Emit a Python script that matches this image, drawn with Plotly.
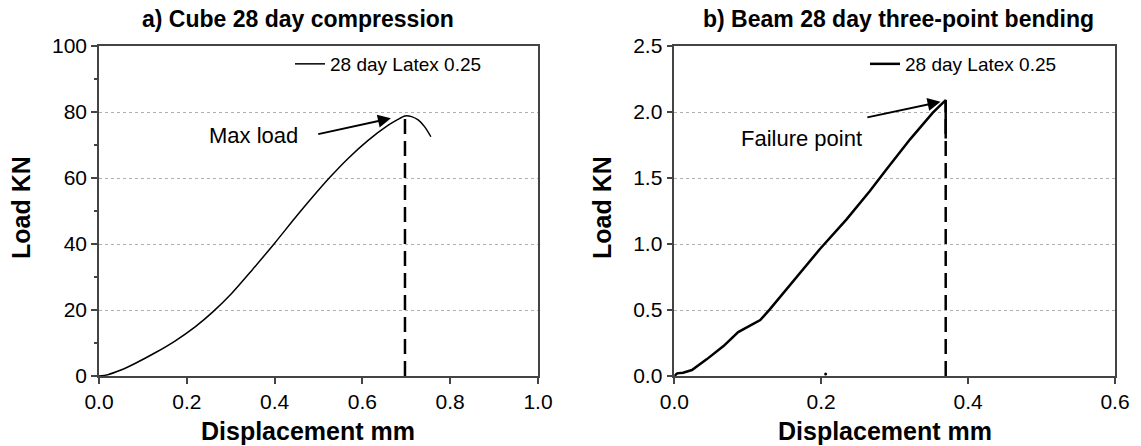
import plotly.graph_objects as go

# Cube, 28 day compression test
cube_disp = [0.0, 0.02, 0.05, 0.082, 0.13, 0.173, 0.219, 0.26, 0.302, 0.348, 0.401,
             0.446, 0.485, 0.526, 0.568, 0.613, 0.659, 0.68, 0.697, 0.712, 0.727,
             0.742, 0.756]
cube_load = [0.0, 0.4, 1.8, 3.8, 7.2, 10.6, 14.9, 19.5, 25.0, 32.0, 40.4,
             47.8, 54.0, 60.2, 66.0, 71.4, 76.0, 77.7, 78.8, 78.6, 77.6,
             75.5, 72.5]

# Beam, 28 day three-point bending test
beam_disp = [0.0, 0.004, 0.012, 0.024, 0.044, 0.067, 0.087, 0.103, 0.117, 0.130,
             0.162, 0.198, 0.2345, 0.266, 0.289, 0.321, 0.352, 0.3695, 0.3695]
beam_load = [0.0, 0.02, 0.025, 0.045, 0.126, 0.227, 0.333, 0.384, 0.424, 0.505,
             0.72, 0.96, 1.187, 1.40, 1.566, 1.793, 1.995, 2.09, 1.80]
beam_stray_disp = [0.206]
beam_stray_load = [0.015]

series_name = "28 day Latex 0.25"
titles = ["a) Cube 28 day compression", "b) Beam 28 day three-point bending"]
x_title = "Displacement mm"
y_title = "Load KN"

W, H = 1141, 446
FONT = "Liberation Sans, Arial, sans-serif"


def px(x):
    return x / W


def py(y):
    return 1 - y / H


i_max = cube_load.index(max(cube_load))
max_disp, max_load = cube_disp[i_max], cube_load[i_max]
i_fail = beam_load.index(max(beam_load))
fail_disp, fail_load = beam_disp[i_fail], beam_load[i_fail]

fig = go.Figure()

fig.add_trace(go.Scatter(x=cube_disp, y=cube_load, mode="lines", name=series_name,
                         line=dict(color="black", width=1.5, shape="spline", smoothing=0.8),
                         xaxis="x", yaxis="y", legend="legend"))
fig.add_trace(go.Scatter(x=[max_disp, max_disp], y=[0, max_load], mode="lines",
                         line=dict(color="black", width=2.5, dash="15px,7px"),
                         showlegend=False, xaxis="x", yaxis="y"))

fig.add_trace(go.Scatter(x=beam_disp, y=beam_load, mode="lines", name=series_name,
                         line=dict(color="black", width=2.5),
                         xaxis="x2", yaxis="y2", legend="legend2"))
fig.add_trace(go.Scatter(x=beam_stray_disp, y=beam_stray_load, mode="markers",
                         marker=dict(color="black", size=3),
                         showlegend=False, xaxis="x2", yaxis="y2"))
fig.add_trace(go.Scatter(x=[fail_disp, fail_disp], y=[0, fail_load], mode="lines",
                         line=dict(color="black", width=2.5, dash="15px,7px"),
                         showlegend=False, xaxis="x2", yaxis="y2"))

axis_common = dict(
    showline=True, linecolor="#444", linewidth=1.5, mirror=True,
    ticks="outside", ticklen=6, tickcolor="#444", tickwidth=1.5,
    tickfont=dict(family=FONT, size=21, color="black"),
    zeroline=False, automargin=False,
)

fig.update_layout(
    width=W, height=H,
    margin=dict(l=0, r=0, t=0, b=0),
    paper_bgcolor="white", plot_bgcolor="white",
    font=dict(family=FONT, color="black"),
    xaxis=dict(domain=[px(99), px(538)], range=[0, 1.0], dtick=0.2, tickformat=".1f",
               anchor="y", showgrid=False, **axis_common),
    yaxis=dict(domain=[py(376), py(46)], range=[0, 100], dtick=20, anchor="x",
               showgrid=True, gridcolor="#b0b0b0", gridwidth=1, griddash="dot",
               minor=dict(dtick=10, ticks="outside", ticklen=3, tickcolor="#444",
                          showgrid=False),
               **axis_common),
    xaxis2=dict(domain=[px(674.3), px(1115)], range=[0, 0.6], dtick=0.2, tickformat=".1f",
                anchor="y2", showgrid=False, **axis_common),
    yaxis2=dict(domain=[py(376), py(46)], range=[0, 2.5], dtick=0.5, tickformat=".1f",
                anchor="x2", showgrid=True, gridcolor="#b0b0b0", gridwidth=1,
                griddash="dot", **axis_common),
    legend=dict(x=px(290), y=py(64), xanchor="left", yanchor="middle",
                bgcolor="rgba(0,0,0,0)", font=dict(family=FONT, size=19),
                itemwidth=30),
    legend2=dict(x=px(865), y=py(64), xanchor="left", yanchor="middle",
                 bgcolor="rgba(0,0,0,0)", font=dict(family=FONT, size=19),
                 itemwidth=30),
)

ann = []
# panel titles
for t, cx in zip(titles, [298, 898]):
    ann.append(dict(text=f"<b>{t}</b>", x=px(cx), y=py(19), xref="paper", yref="paper",
                    xanchor="center", yanchor="middle", showarrow=False,
                    font=dict(size=23, family=FONT)))
# axis titles
for cx in [308, 885]:
    ann.append(dict(text=f"<b>{x_title}</b>", x=px(cx), y=py(431), xref="paper",
                    yref="paper", xanchor="center", yanchor="middle", showarrow=False,
                    font=dict(size=25, family=FONT)))
for cx in [21, 602]:
    ann.append(dict(text=f"<b>{y_title}</b>", x=px(cx), y=py(208), xref="paper",
                    yref="paper", xanchor="center", yanchor="middle", showarrow=False,
                    textangle=-90, font=dict(size=25, family=FONT)))
# callouts
ann.append(dict(text="Max load", x=0.351, y=72.9, xref="x", yref="y", showarrow=False,
                xanchor="center", yanchor="middle", font=dict(size=22, family=FONT)))
ann.append(dict(text="", x=0.665, y=78.1, ax=0.496, ay=73.2, xref="x", yref="y",
                axref="x", ayref="y", showarrow=True, arrowhead=2, arrowsize=1.3,
                arrowwidth=2, arrowcolor="black"))
ann.append(dict(text="Failure point", x=0.173, y=1.80, xref="x2", yref="y2",
                xanchor="center", yanchor="middle", showarrow=False,
                font=dict(size=22, family=FONT)))
ann.append(dict(text="", x=0.3625, y=2.078, ax=0.2608, ay=1.957, xref="x2", yref="y2",
                axref="x2", ayref="y2", showarrow=True, arrowhead=2, arrowsize=1.3,
                arrowwidth=2, arrowcolor="black"))
fig.update_layout(annotations=ann)

fig.write_html("out.html")
